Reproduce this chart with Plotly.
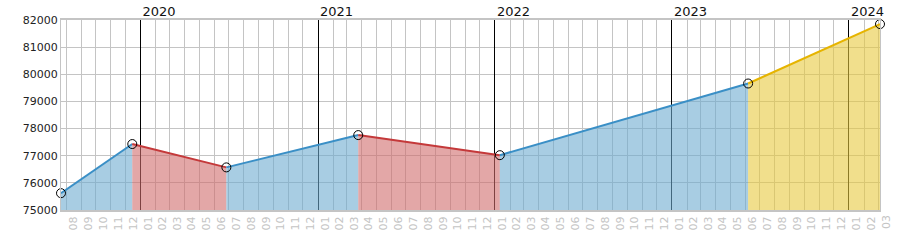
import pandas as pd
import plotly.graph_objects as go

dates = ["2019-07-21", "2019-12-15", "2020-06-26", "2021-03-25", "2022-01-11", "2023-06-07", "2024-03-05"]
values = [75620, 77430, 76570, 77760, 77020, 79660, 81850]
segment_kind = ["up", "down", "up", "down", "up", "forecast"]

x_range = ["2019-07-21", "2024-03-05"]
y_range = [75000, 82000]

line_colors = {"up": "#3a8fc6", "down": "#c4393a", "forecast": "#e6b400"}
fill_colors = {"up": "rgba(110,172,208,0.6)", "down": "rgba(208,108,108,0.6)",
               "forecast": "rgba(232,202,63,0.6)"}

fig = go.Figure()
for i, kind in enumerate(segment_kind):
    fig.add_trace(go.Scatter(
        x=[dates[i], dates[i + 1]], y=[values[i], values[i + 1]],
        mode="lines", line=dict(color=line_colors[kind], width=2),
        fill="tozeroy", fillcolor=fill_colors[kind], hoverinfo="skip",
        showlegend=False))

fig.add_trace(go.Scatter(
    x=dates, y=values, mode="markers", xaxis="x2",
    marker=dict(symbol="circle-open", size=9, color="black", line=dict(width=1, color="black")),
    showlegend=False, cliponaxis=False))

# label for the trailing partial month (its centre lies past the axis end)
start, end = pd.Timestamp(x_range[0]), pd.Timestamp(x_range[1])
for m in pd.date_range(start.to_period("M").to_timestamp(), end, freq="MS"):
    nxt = m + pd.offsets.MonthBegin(1)
    mid = m + (nxt - m) / 2
    if m >= start and mid > end:
        fig.add_annotation(x=end, y=0, xref="x", yref="paper", text=m.strftime("%m"),
                           showarrow=False, textangle=-90, yanchor="top", yshift=-3, xshift=6,
                           font=dict(family="DejaVu Sans", size=11, color="#c4c4c4"))

fig.update_layout(
    width=900, height=250,
    margin=dict(l=61, r=20, t=20, b=40, autoexpand=False),
    plot_bgcolor="white", paper_bgcolor="white",
    font=dict(family="DejaVu Sans", size=11, color="#222"),
    xaxis=dict(
        type="date", range=x_range, dtick="M1", tick0="2019-01-01",
        ticklabelmode="period", tickformat="%m", tickangle=-90,
        tickfont=dict(family="DejaVu Sans", size=11, color="#c4c4c4"),
        showgrid=True, gridcolor="#c4c4c4", gridwidth=1,
        showline=True, linecolor="#c4c4c4", linewidth=2, mirror=True,
        ticks="", zeroline=False, automargin=False,
    ),
    xaxis2=dict(
        type="date", range=x_range, overlaying="x", side="top",
        dtick="M12", tick0="2020-01-01", tickformat="%Y",
        ticklabelposition="outside right", ticklabelshift=2, ticklabelstandoff=0,
        tickfont=dict(family="DejaVu Sans", size=13, color="#111"),
        showgrid=True, gridcolor="black", gridwidth=1,
        showline=False, ticks="", zeroline=False, automargin=False,
    ),
    yaxis=dict(
        range=y_range, dtick=1000, tickformat="d",
        showgrid=True, gridcolor="#c4c4c4", gridwidth=1,
        showline=True, linecolor="#c4c4c4", linewidth=1, mirror=True,
        ticks="", zeroline=False, automargin=False,
        tickfont=dict(family="DejaVu Sans", size=11, color="#222"),
    ),
)

fig.write_html("out.html")
